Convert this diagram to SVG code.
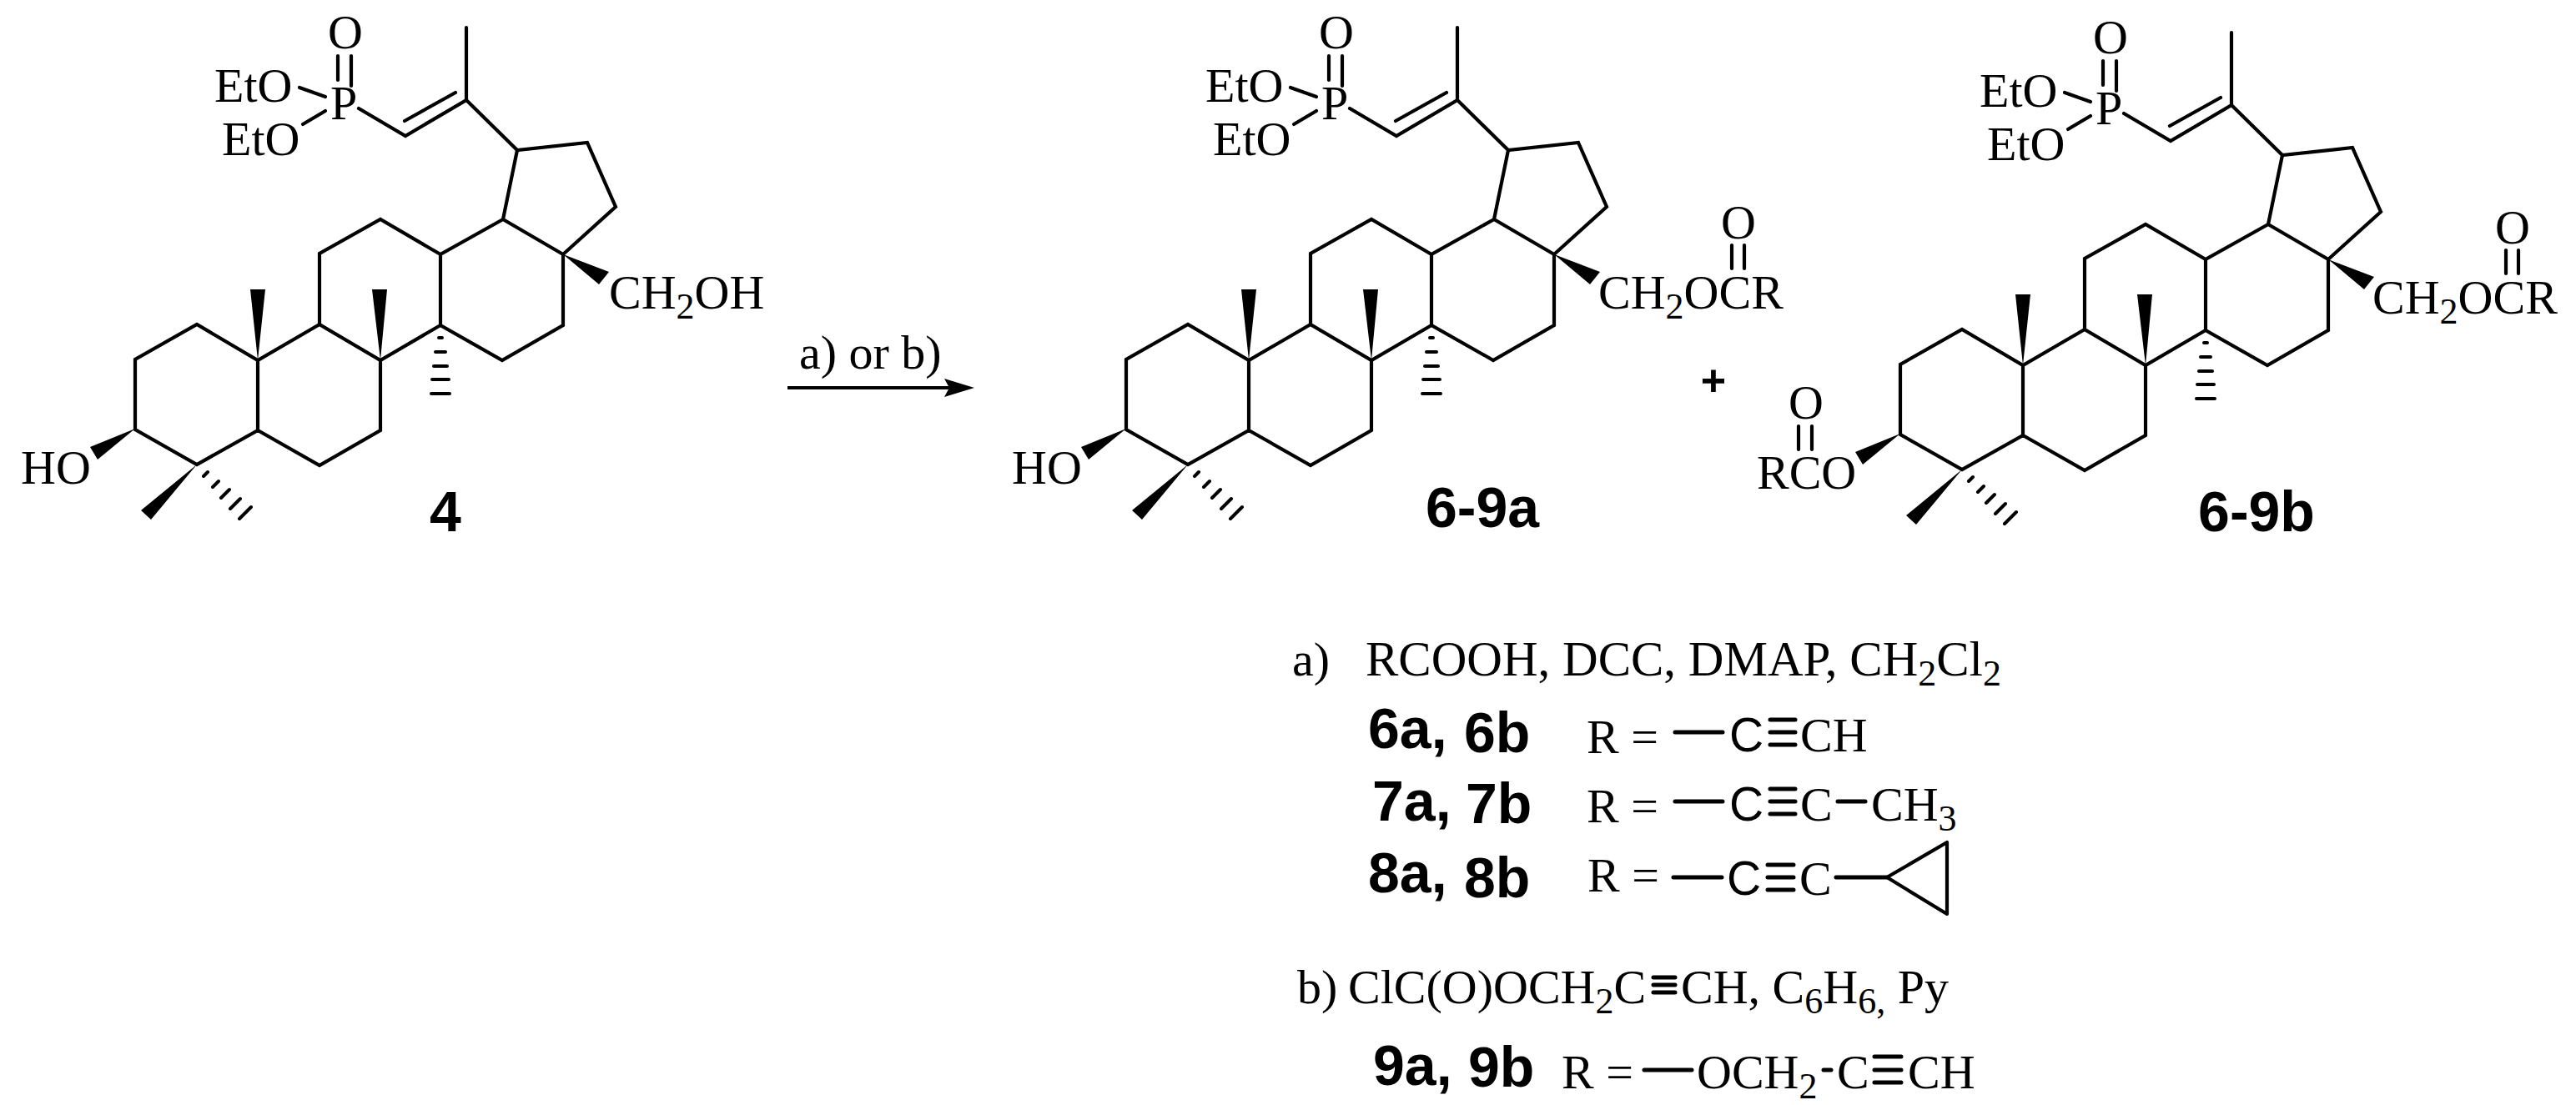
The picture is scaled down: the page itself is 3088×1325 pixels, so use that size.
<svg xmlns="http://www.w3.org/2000/svg" xmlns:xlink="http://www.w3.org/1999/xlink" width="3088" height="1325" viewBox="0 0 3088 1325">
<style>
text{font-family:"Liberation Serif","Times New Roman",serif;font-size:58px;fill:#000}
.b{font-family:"Liberation Sans",Arial,sans-serif;font-weight:bold;font-size:68px}
.c{font-family:"Liberation Sans",Arial,sans-serif;font-size:57px}
.s{font-size:44px}
.l{fill:none;stroke:#000;stroke-width:4.2;stroke-linejoin:miter;stroke-linecap:round}
.t{fill:none;stroke:#000;stroke-width:5;stroke-linecap:round}
.w{fill:#000;stroke:none}
.h{fill:none;stroke:#000;stroke-width:4;stroke-linecap:round}
</style>
<defs>
<marker id="arrowhead" markerUnits="userSpaceOnUse" markerWidth="36" markerHeight="22" refX="18" refY="11" orient="auto"><path d="M0,0 L36,11 L0,22 L6,11 Z" fill="#000"/></marker>
<g id="skeleton">
<path class="l" d="M559,33 V120 L486,163 L430,130 M546,111 L485,145 M559,120 L620,180 L704,171 L738,248 L675,305 L603,263 L620,180 M603,263 L528,305 V390 L602,432 L675,390 V305 M528,305 L456,263 L383,304 V389 L456,432 L528,390 M383,389 L309,432 L236,389 L162,431 V515 L236,557 L309,516 V432 M309,516 L383,558 L456,516 V432"/>
<path class="l" d="M405,67 V96 M421,67 V103 M359,105 L390,116 M363,149 L390,133"/>
<path class="w" d="M675,305 L730,326 L718,341 Z M309,432 L300,347 H318 Z M456,432 L446,347 H464 Z M162,514 L108,536 L117,551 Z M236,557 L169,612 L181,623 Z"/>
<path class="h" d="M526,405 H530 M522,422 H534 M520,439 H536 M518,455 H538 M517,472 H539 M244,571 L249,566 M255,584 L262,577 M265,597 L275,587 M276,610 L288,598 M287,622 L301,608"/>
</g>
</defs>
<g id="connectors">
<line x1="944" y1="465" x2="1150" y2="465" stroke="#000" stroke-width="4" marker-end="url(#arrowhead)" style="fill:none"/>
</g>
<g id="compound-4">
<use href="#skeleton" xlink:href="#skeleton"/>
<text x="393" y="58">O</text>
<text x="396" y="143">P</text>
<text x="257" y="122">EtO</text>
<text x="266" y="186">EtO</text>
<text x="730" y="370">CH<tspan class="s" dy="12">2</tspan><tspan dy="-12">OH</tspan></text>
<text x="25" y="580">HO</text>
<text class="b" x="534" y="637" text-anchor="middle">4</text>
</g>
<g id="reaction-label"><text x="958" y="442">a) or b)</text></g>
<g id="compound-6-9a">
<use href="#skeleton" xlink:href="#skeleton" x="1188"/>
<text x="1581" y="58">O</text>
<text x="1584" y="143">P</text>
<text x="1445" y="122">EtO</text>
<text x="1454" y="186">EtO</text>
<text x="1916" y="370">CH<tspan class="s" dy="12">2</tspan><tspan dy="-12">OCR</tspan></text>
<text x="2063" y="286">O</text>
<path class="l" d="M2076,294 V322 M2091,294 V322"/>
<text x="1213" y="580">HO</text>
<text class="b" x="1777" y="632" text-anchor="middle">6-9a</text>
</g>
<g id="plus"><text class="b" x="2054" y="474" text-anchor="middle" style="font-size:52px">+</text></g>
<g id="compound-6-9b">
<use href="#skeleton" xlink:href="#skeleton" x="2116" y="6"/>
<text x="2509" y="64">O</text>
<text x="2512" y="149">P</text>
<text x="2373" y="128">EtO</text>
<text x="2382" y="192">EtO</text>
<text x="2844" y="376">CH<tspan class="s" dy="12">2</tspan><tspan dy="-12">OCR</tspan></text>
<text x="2991" y="292">O</text>
<path class="l" d="M3004,300 V328 M3019,300 V328"/>
<text x="2106" y="586">RCO</text>
<text x="2144" y="502">O</text>
<path class="l" d="M2156,511 V539 M2172,511 V539"/>
<text class="b" x="2705" y="637" text-anchor="middle">6-9b</text>
</g>
<g id="conditions-a">
<text x="1549" y="810">a)</text>
<text x="1637" y="810" style="font-size:59px">RCOOH, DCC, DMAP, CH<tspan class="s" dy="12">2</tspan><tspan dy="-12">Cl</tspan><tspan class="s" dy="12">2</tspan></text>
</g>
<g id="row-6">
<text class="b" x="1640" y="897">6a,</text>
<text class="b" x="1755" y="902">6b</text>
<text x="1902" y="903">R =</text>
<path class="t" d="M2008,878 H2065 M2122,863 H2152 M2122,878 H2152 M2122,893 H2152"/>
<text class="c" x="2073" y="901">C</text>
<text x="2158" y="901">CH</text>
</g>
<g id="row-7">
<text class="b" x="1645" y="984">7a,</text>
<text class="b" x="1757" y="987">7b</text>
<text x="1902" y="986">R =</text>
<path class="t" d="M2008,961 H2065 M2122,946 H2152 M2122,961 H2152 M2122,976 H2152 M2203,961 H2236"/>
<text class="c" x="2073" y="984">C</text>
<text x="2158" y="984">C</text>
<text x="2243" y="984">CH<tspan class="s" dy="12">3</tspan></text>
</g>
<g id="row-8">
<text class="b" x="1640" y="1070">8a,</text>
<text class="b" x="1755" y="1076">8b</text>
<text x="1903" y="1069">R =</text>
<path class="t" d="M2006,1052 H2064 M2119,1037 H2150 M2119,1052 H2150 M2119,1067 H2150 M2201,1052 H2262"/>
<text class="c" x="2070" y="1073">C</text>
<text x="2157" y="1073">C</text>
<path class="l" d="M2262,1052 L2334,1010 V1096 Z" style="stroke-linejoin:round"/>
</g>
<g id="conditions-b">
<text x="1555" y="1203">b)</text>
<text x="1616" y="1203">ClC(O)OCH<tspan class="s" dy="12">2</tspan><tspan dy="-12">C</tspan></text>
<path class="t" d="M1982,1172 H2008 M1982,1181 H2008 M1982,1190 H2008"/>
<text x="2015" y="1203">CH, C<tspan class="s" dy="12">6</tspan><tspan dy="-12">H</tspan><tspan class="s" dy="12">6,</tspan><tspan dy="-12"> Py</tspan></text>
</g>
<g id="row-9">
<text class="b" x="1646" y="1301">9a,</text>
<text class="b" x="1760" y="1303">9b</text>
<text x="1872" y="1305">R =</text>
<path class="t" d="M1971,1283 H2028 M2186,1283 H2195 M2247,1267 H2279 M2247,1283 H2279 M2247,1298 H2279"/>
<text x="2034" y="1305">OCH<tspan class="s" dy="12">2</tspan></text>
<text x="2202" y="1305">C</text>
<text x="2287" y="1305">CH</text>
</g>
</svg>
